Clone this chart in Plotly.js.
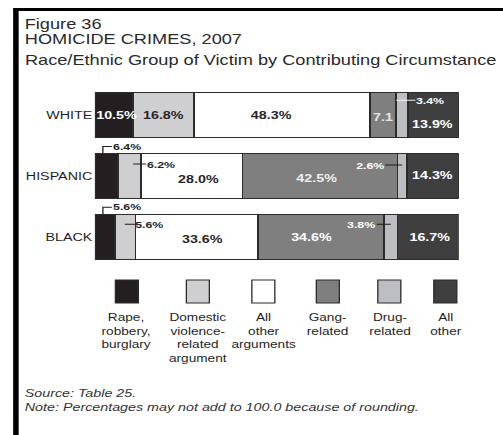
<!DOCTYPE html>
<html><head><meta charset="utf-8">
<script src="https://cdn.plot.ly/plotly-3.0.1.min.js"></script>
<style>
html,body{margin:0;padding:0;background:#fff;overflow:hidden;width:503px;height:435px}
#chart{width:387px;height:435px;transform:scaleX(1.29974);transform-origin:0 0}
</style></head><body><div id="chart"></div>
<script>
// ---------- data ----------
const groups = ["WHITE", "HISPANIC", "BLACK"];
const circumstances = ["Rape, robbery, burglary", "Domestic violence-related argument", "All other arguments", "Gang-related", "Drug-related", "All other"];
const legendLabels = ["Rape,<br>robbery,<br>burglary", "Domestic<br>violence-<br>related<br>argument", "All<br>other<br>arguments", "Gang-<br>related", "Drug-<br>related", "All<br>other"];
const rapeRobbery = [10.5, 6.4, 5.6];
const domesticViolence = [16.8, 6.2, 5.6];
const otherArguments = [48.3, 28.0, 33.6];
const gangRelated = [7.1, 42.5, 34.6];
const drugRelated = [3.4, 2.6, 3.8];
const allOther = [13.9, 14.3, 16.7];
const titleLines = ["Figure 36", "HOMICIDE CRIMES, 2007", "Race/Ethnic Group of Victim by Contributing Circumstance"];
const sourceLines = ["Source: Table 25.", "Note: Percentages may not add to 100.0 because of rounding."];

// ---------- style ----------
const S = 503 / 387;                 // horizontal stretch of the original scan
const FONT = '"Liberation Sans", Arial, Helvetica, sans-serif';
const fills = ['#231f20', '#cfcfd1', '#ffffff', '#7f7f80', '#bdbec2', '#3f3f40'];
const DARK = '#262626', LIGHT = '#ffffff';
const px = x => (x - 95) / 364;      // reference pixel -> paper x
const py = y => (267 - y) / 182;     // reference pixel -> paper y
const HALF = 0.37;                   // half bar thickness (bargap 0.26)
const PXY = 182 / 3;                 // pixels per y unit

// per label placement style: [group][segment]
const labelStyle = [
  [{k:'in',dx:2,dy:0,c:LIGHT},{k:'in',dx:0,dy:0,c:DARK},{k:'in',dx:-11,dy:0,c:DARK},
   {k:'in',dx:0,dy:-2,c:'#e4e4e4',noPct:true},{k:'lead',off:0.5,up:15,ax:34,c:LIGHT,lc:'#f2f2f2'},{k:'in',dx:-1,dy:-9,c:LIGHT}],
  [{k:'br',c:DARK},{k:'lead',off:15,up:12,ax:28,c:DARK},{k:'in',dx:7,dy:-3,c:DARK},
   {k:'in',dx:-3,dy:-2,c:'#eeeeee'},{k:'lead',off:5,up:11,ax:-32,c:LIGHT},{k:'in',dx:-1,dy:1,c:LIGHT}],
  [{k:'br',c:DARK},{k:'lead',off:9.6,up:12.5,ax:25,c:DARK},{k:'in',dx:5,dy:-2.5,c:DARK},
   {k:'in',dx:-10,dy:0,c:LIGHT},{k:'lead',off:7,up:12.5,ax:-29,c:LIGHT},{k:'in',dx:2,dy:0,c:LIGHT}]
];

const series = [rapeRobbery, domesticViolence, otherArguments, gangRelated, drugRelated, allOther];
const yIdx = groups.map((g, i) => i);

const traces = series.map((vals, j) => ({
  type: 'bar', orientation: 'h', x: vals, y: yIdx, name: circumstances[j],
  marker: {color: fills[j], line: {color: '#2b2b2b', width: 1.2}},
  hovertemplate: '%{x:.1f}%<extra>' + circumstances[j] + '</extra>'
}));

const annotations = [];
const shapes = [];

// value labels
groups.forEach((g, i) => {
  let start = 0;
  series.forEach((vals, j) => {
    const v = vals[i];
    const st = labelStyle[i][j];
    const txt = v.toFixed(1) + (st.noPct ? '' : '%');
    if (st.k === 'in') {
      annotations.push({x: start + v / 2, y: i, xref: 'x', yref: 'y', text: txt, showarrow: false,
        xshift: st.dx / S, yshift: st.dy, font: {family: FONT, size: 11, weight: 'bold', color: st.c}});
    } else if (st.k === 'lead') {
      annotations.push({x: start, y: i, xref: 'x', yref: 'y', text: txt, showarrow: true,
        xshift: st.off / S, yshift: st.up, ax: st.ax / S, ay: 0, arrowhead: 0, arrowwidth: 1,
        arrowcolor: st.lc || '#1e1e1e', standoff: 0, startstandoff: 0, borderpad: 0,
        font: {family: FONT, size: 9.5, weight: 'bold', color: st.c}});
    } else if (st.k === 'br') {
      const yTop = i - HALF;
      const yUp = yTop - 7 / PXY;
      shapes.push({type: 'path', xref: 'x', yref: 'y', xsizemode: 'pixel', xanchor: start,
        path: 'M' + (8 / S) + ',' + yTop + ' L' + (8 / S) + ',' + yUp + ' L' + (17 / S) + ',' + yUp,
        line: {color: '#1e1e1e', width: 1}});
      annotations.push({x: start, y: yUp, xref: 'x', yref: 'y', text: txt, showarrow: false,
        xanchor: 'left', yanchor: 'middle', xshift: 17 / S, yshift: 0.5, borderpad: 0,
        font: {family: FONT, size: 9.5, weight: 'bold', color: st.c}});
    }
    start += v;
  });
});

// legend (custom, below the bars)
const legendCenters = [127, 198, 263.5, 328, 389.5, 445.5];
circumstances.forEach((c, j) => {
  const cx = legendCenters[j];
  shapes.push({type: 'rect', xref: 'paper', yref: 'paper',
    x0: px(cx - 11.5), x1: px(cx + 11.5), y0: py(303), y1: py(280),
    fillcolor: fills[j], line: {color: '#2b2b2b', width: 1}});
  annotations.push({xref: 'paper', yref: 'paper', x: px(cx), y: py(309), xanchor: 'center', yanchor: 'top',
    text: legendLabels[j], showarrow: false, align: 'center',
    font: {family: FONT, size: 10.5, color: '#1e1e1e'}});
});

// titles
const titleY = [23.5, 39, 60];
titleLines.forEach((t, k) => {
  annotations.push({xref: 'paper', yref: 'paper', x: px(22), y: py(titleY[k]), xanchor: 'left', yanchor: 'middle',
    text: t, showarrow: false, font: {family: FONT, size: 14, color: '#2a2a2a'}});
});
// source notes
const srcY = [393, 407];
sourceLines.forEach((t, k) => {
  annotations.push({xref: 'paper', yref: 'paper', x: px(22), y: py(srcY[k]), xanchor: 'left', yanchor: 'middle',
    text: t, showarrow: false, font: {family: FONT, size: 11, style: 'italic', color: '#333333'}});
});

// frame lines of the figure box
shapes.push({type: 'line', xref: 'paper', yref: 'paper', x0: px(16), x1: px(16), y0: py(8), y1: py(445),
  line: {color: '#000', width: 5.5 / S}});
shapes.push({type: 'line', xref: 'paper', yref: 'paper', x0: px(13.5), x1: px(520), y0: py(9.5), y1: py(9.5),
  line: {color: '#000', width: 3}});

const layout = {
  width: 387, height: 435,
  margin: {l: 95 / S, r: 44 / S, t: 85, b: 168, pad: 0},
  paper_bgcolor: '#fff', plot_bgcolor: '#fff',
  barmode: 'stack', bargap: 0.26, showlegend: false,
  xaxis: {range: [0, 100], visible: false, fixedrange: true},
  yaxis: {range: [2.5, -0.5], tickvals: yIdx, ticktext: groups, showgrid: false, zeroline: false,
    showline: false, ticks: '', ticklabelstandoff: 1, fixedrange: true,
    tickfont: {family: FONT, size: 11, color: '#1e1e1e'}},
  annotations: annotations, shapes: shapes,
  font: {family: FONT}
};

Plotly.newPlot('chart', traces, layout, {displayModeBar: false, staticPlot: true});
</script></body></html>
